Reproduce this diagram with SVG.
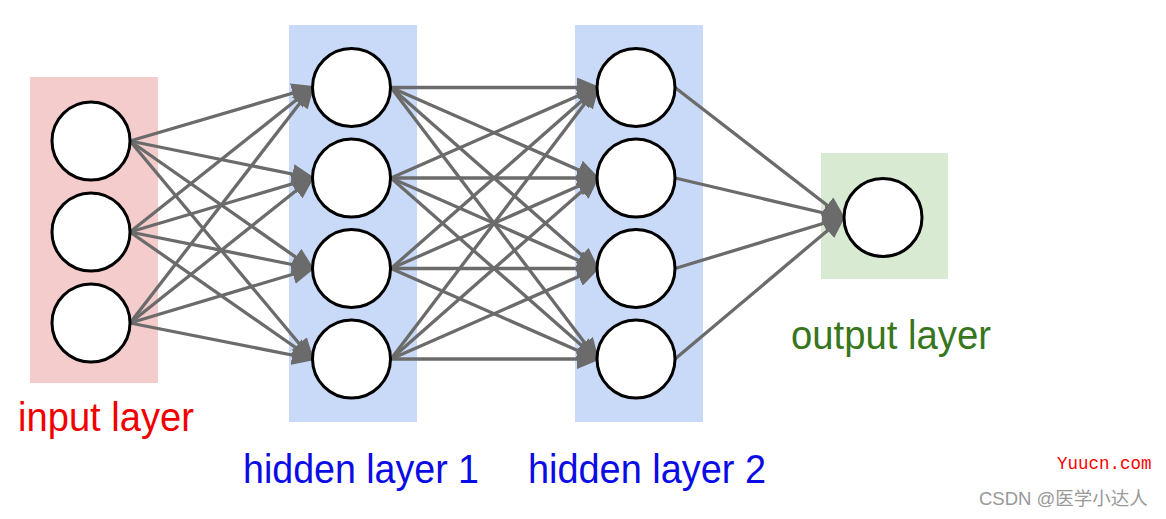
<svg xmlns="http://www.w3.org/2000/svg" width="1166" height="519" viewBox="0 0 1166 519">
<style>
.bg-in{fill:#f4cccc}
.bg-hid{fill:#c9daf8}
.bg-out{fill:#d9ead3}
.node{fill:#ffffff;stroke:#000000;stroke-width:3}
.edge{stroke:#6b6b6b;stroke-width:3.3;fill:none;marker-end:url(#arr)}
.lbl{font-family:"Liberation Sans",Arial,sans-serif;font-size:40px}
</style>
<defs>
<marker id="arr" markerUnits="userSpaceOnUse" markerWidth="24" markerHeight="20" refX="20" refY="10" orient="auto">
<path d="M0,0 L24,10 L0,20 z" fill="#6b6b6b"/>
</marker>
</defs>
<rect width="1166" height="519" fill="#ffffff"/>
<g id="layers">
<rect class="bg-in" x="30" y="77" width="128" height="306"/>
<rect class="bg-hid" x="289" y="25" width="128" height="397"/>
<rect class="bg-hid" x="575" y="25" width="128" height="397"/>
<rect class="bg-out" x="821" y="153" width="127" height="126"/>
</g>
<g id="connectors">
<line class="edge" x1="130" y1="141" x2="312" y2="87.5"/>
<line class="edge" x1="130" y1="141" x2="312" y2="178"/>
<line class="edge" x1="130" y1="141" x2="312" y2="268.5"/>
<line class="edge" x1="130" y1="141" x2="312" y2="359"/>
<line class="edge" x1="130" y1="232" x2="312" y2="87.5"/>
<line class="edge" x1="130" y1="232" x2="312" y2="178"/>
<line class="edge" x1="130" y1="232" x2="312" y2="268.5"/>
<line class="edge" x1="130" y1="232" x2="312" y2="359"/>
<line class="edge" x1="130" y1="323" x2="312" y2="87.5"/>
<line class="edge" x1="130" y1="323" x2="312" y2="178"/>
<line class="edge" x1="130" y1="323" x2="312" y2="268.5"/>
<line class="edge" x1="130" y1="323" x2="312" y2="359"/>
<line class="edge" x1="391" y1="87.5" x2="597" y2="87.5"/>
<line class="edge" x1="391" y1="87.5" x2="597" y2="178"/>
<line class="edge" x1="391" y1="87.5" x2="597" y2="268.5"/>
<line class="edge" x1="391" y1="87.5" x2="597" y2="359"/>
<line class="edge" x1="391" y1="178" x2="597" y2="87.5"/>
<line class="edge" x1="391" y1="178" x2="597" y2="178"/>
<line class="edge" x1="391" y1="178" x2="597" y2="268.5"/>
<line class="edge" x1="391" y1="178" x2="597" y2="359"/>
<line class="edge" x1="391" y1="268.5" x2="597" y2="87.5"/>
<line class="edge" x1="391" y1="268.5" x2="597" y2="178"/>
<line class="edge" x1="391" y1="268.5" x2="597" y2="268.5"/>
<line class="edge" x1="391" y1="268.5" x2="597" y2="359"/>
<line class="edge" x1="391" y1="359" x2="597" y2="87.5"/>
<line class="edge" x1="391" y1="359" x2="597" y2="178"/>
<line class="edge" x1="391" y1="359" x2="597" y2="268.5"/>
<line class="edge" x1="391" y1="359" x2="597" y2="359"/>
<line class="edge" x1="675" y1="87.5" x2="843" y2="217.5"/>
<line class="edge" x1="675" y1="178" x2="843" y2="217.5"/>
<line class="edge" x1="675" y1="268.5" x2="843" y2="217.5"/>
<line class="edge" x1="675" y1="359" x2="843" y2="217.5"/>
</g>
<g id="in1"><circle class="node" cx="91" cy="141" r="39"/></g>
<g id="in2"><circle class="node" cx="91" cy="232" r="39"/></g>
<g id="in3"><circle class="node" cx="91" cy="323" r="39"/></g>
<g id="h1a"><circle class="node" cx="351.5" cy="87.5" r="39"/></g>
<g id="h1b"><circle class="node" cx="351.5" cy="178" r="39"/></g>
<g id="h1c"><circle class="node" cx="351.5" cy="268.5" r="39"/></g>
<g id="h1d"><circle class="node" cx="351.5" cy="359" r="39"/></g>
<g id="h2a"><circle class="node" cx="636" cy="87.5" r="39"/></g>
<g id="h2b"><circle class="node" cx="636" cy="178" r="39"/></g>
<g id="h2c"><circle class="node" cx="636" cy="268.5" r="39"/></g>
<g id="h2d"><circle class="node" cx="636" cy="359" r="39"/></g>
<g id="out1"><circle class="node" cx="883" cy="217.5" r="39"/></g>
<g id="labels">
<text class="lbl" x="18" y="431" fill="#f20000" textLength="176" lengthAdjust="spacingAndGlyphs">input layer</text>
<text class="lbl" x="243" y="483" fill="#0b0be6" textLength="236" lengthAdjust="spacingAndGlyphs">hidden layer 1</text>
<text class="lbl" x="528" y="483" fill="#0b0be6" textLength="238" lengthAdjust="spacingAndGlyphs">hidden layer 2</text>
<text class="lbl" x="791" y="349" fill="#38761d" textLength="200" lengthAdjust="spacingAndGlyphs">output layer</text>
</g>
<g id="watermark">
<text x="1057" y="469" fill="#ff0000" font-family="'Liberation Mono','Courier New',monospace" font-size="17.5">Yuucn.com</text>
<text x="979" y="505" fill="#999999" font-family="'Liberation Sans','Noto Sans CJK SC',sans-serif" font-size="18.5">CSDN @医学小达人</text>
</g>
</svg>
